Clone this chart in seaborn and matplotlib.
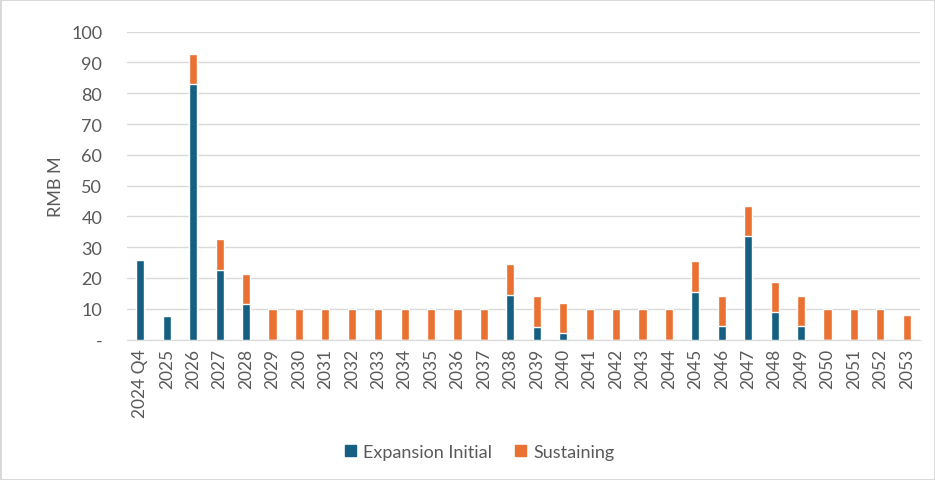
import pandas as pd
import matplotlib
matplotlib.use("Agg")
import matplotlib.pyplot as plt
import seaborn as sns
from matplotlib.patches import Patch

# values (RMB M)
periods = ["2024 Q4"] + [str(y) for y in range(2025, 2054)]
expansion_initial = [26.0, 7.5, 83.0, 22.7, 11.4, 0, 0, 0, 0, 0,
                     0, 0, 0, 0, 14.6, 4.1, 2.0, 0, 0, 0,
                     0, 15.4, 4.3, 33.5, 8.8, 4.3, 0, 0, 0, 0]
sustaining = [0, 0, 9.9, 9.9, 9.8, 9.9, 9.9, 9.9, 9.9, 9.9,
              9.9, 9.9, 9.9, 9.9, 10.0, 9.9, 9.8, 9.9, 9.9, 9.9,
              9.9, 10.0, 9.9, 10.0, 9.9, 9.9, 9.9, 9.9, 9.9, 7.9]

blue = "#156082"
orange = "#E97132"
grey_txt = "#595959"

df = pd.DataFrame({"period": periods,
                   "initial": expansion_initial,
                   "sustaining": sustaining})
df["total"] = df["initial"] + df["sustaining"]

sns.set_style("white")
plt.rcParams["font.family"] = ["Lato", "DejaVu Sans"]

fig, ax = plt.subplots(figsize=(9.35, 4.81), dpi=100)
fig.subplots_adjust(left=0.136, right=0.984, top=0.932, bottom=0.292)

# stacked look: totals in orange, initial drawn over them in blue
sns.barplot(data=df, x="period", y="total", color=orange, width=0.31,
            saturation=1, ax=ax, zorder=3)
sns.barplot(data=df, x="period", y="initial", color=blue, width=0.31,
            saturation=1, ax=ax, zorder=4)

ax.set_ylim(0, 100)
ax.set_xlim(-0.5, len(periods) - 0.5)
yt = list(range(0, 101, 10))
ax.set_yticks(yt)
ax.set_yticklabels(["-"] + [str(v) for v in yt[1:]], fontsize=13, color=grey_txt)
ax.tick_params(axis="x", labelrotation=90, labelsize=12.5, labelcolor=grey_txt, length=0, pad=6)
ax.tick_params(axis="y", length=0, pad=18)
ax.yaxis.grid(True, color="#D9D9D9", linewidth=1)
ax.set_axisbelow(True)
for s in ["top", "right", "left"]:
    ax.spines[s].set_visible(False)
ax.spines["bottom"].set_color("#D9D9D9")
ax.set_xlabel("")
ax.set_ylabel("RMB M", fontsize=13, color=grey_txt, labelpad=5)

handles = [Patch(color=blue, label="Expansion Initial"),
           Patch(color=orange, label="Sustaining")]
leg = fig.legend(handles=handles, loc="center", bbox_to_anchor=(0.513, 0.058),
                 ncol=2, frameon=False, fontsize=13, handlelength=0.6,
                 handleheight=0.6, handletextpad=0.4, columnspacing=1.3)
for t in leg.get_texts():
    t.set_color(grey_txt)

fig.patch.set_edgecolor("#D9D9D9")
fig.patch.set_linewidth(1)

fig.savefig("out.png", dpi=100)
